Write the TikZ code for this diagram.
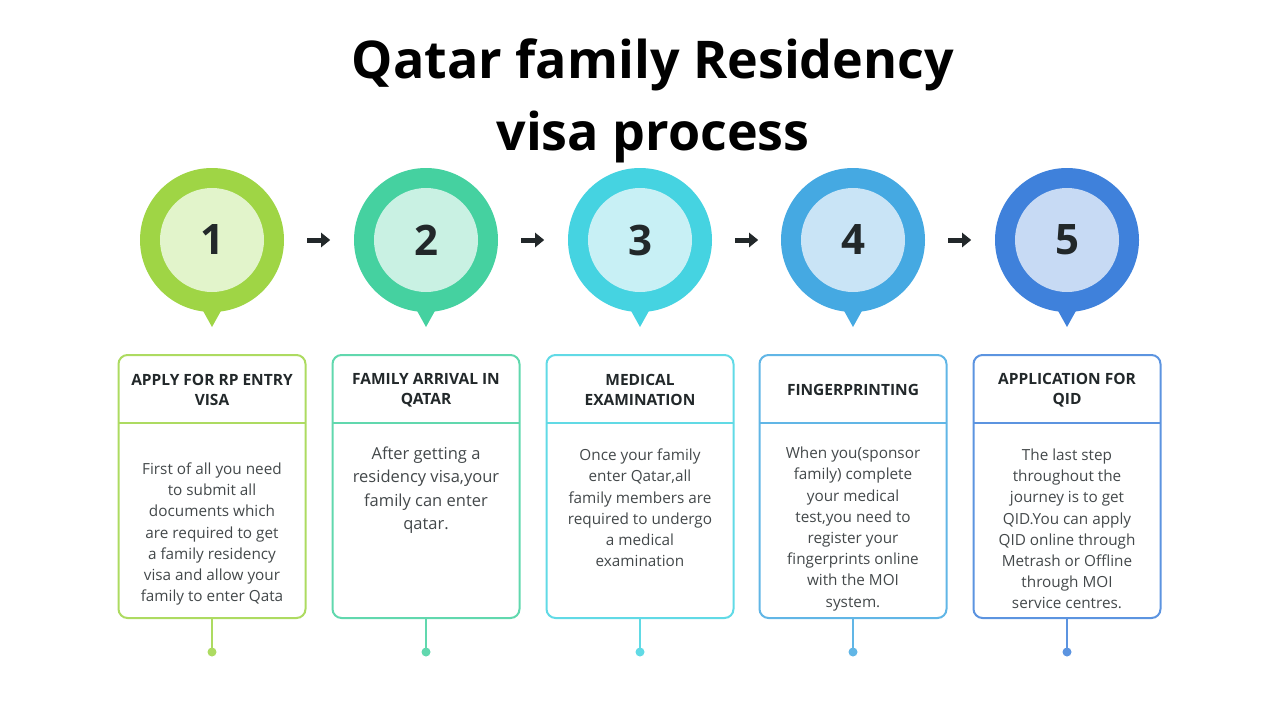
\documentclass[tikz,border=0pt]{standalone}
\usepackage{fontspec}
\setmainfont{Open Sans}
\usetikzlibrary{arrows.meta,positioning}
\definecolor{ringA}{HTML}{9FD545}\definecolor{coreA}{HTML}{E2F4CB}
\definecolor{ringB}{HTML}{45D1A0}\definecolor{coreB}{HTML}{C9F1E3}
\definecolor{ringC}{HTML}{45D3E1}\definecolor{coreC}{HTML}{C8F0F5}
\definecolor{ringD}{HTML}{45A9E2}\definecolor{coreD}{HTML}{C9E4F6}
\definecolor{ringE}{HTML}{3F81DB}\definecolor{coreE}{HTML}{C7DAF4}
\definecolor{ink}{HTML}{22282A}
\tikzset{
  ring/.style={circle,minimum size=144pt,inner sep=0pt},
  core/.style={circle,minimum size=104pt,inner sep=0pt,font=\bfseries\fontsize{42}{42}\selectfont,text=ink},
  card/.style={draw,line width=2pt,rounded corners=9pt,minimum width=187pt,minimum height=263pt,anchor=north},
  head/.style={font=\bfseries\fontsize{15.5}{20}\selectfont,align=center,text=ink},
  body/.style={font=\fontsize{15.3}{21.2}\selectfont,align=center,text=ink!85},
  nextstep/.style={-{Triangle[length=9pt,width=14pt]},line width=5pt,ink}
}
\begin{document}
\begin{tikzpicture}[x=1pt,y=-1pt]
  \useasboundingbox (0,0) rectangle (1280,720);
  \node[font=\bfseries\fontsize{52}{72}\selectfont,align=center] (title) at (653,101)
    {Qatar family Residency\\visa process};

  \foreach \n/\x/\c in {1/212/A,2/426/B,3/640/C,4/853/D,5/1067/E}{
    % pin
    \fill[ring\c] (\x-15,300) -- (\x+15,300) -- (\x,327) -- cycle;
    \node[ring,fill=ring\c] (ring\n) at (\x,240) {};
    \node[core,fill=core\c] (num\n) at (ring\n) {\n};
    % card with stem
    \node[card,draw=ring\c!85] (card\n) at (\x,354) {};
    \draw[ring\c!85,line width=2pt] ([xshift=1pt]card\n.west |- 0,423) -- ([xshift=-1pt]card\n.east |- 0,423);
    \coordinate (dot\n) at (\x,652);
    \draw[ring\c!85,line width=2pt] (card\n.south) -- (dot\n);
    \fill[ring\c!85] (dot\n) circle (4.5pt);
  }
  \foreach \a/\b in {1/2,2/3,3/4,4/5}
    \draw[nextstep] ([xshift=23pt]ring\a.east) -- ++(23,0);

  \node[head] (head1) at (212,390) {APPLY FOR RP ENTRY\\VISA};
  \node[head] (head2) at (426,390) {FAMILY ARRIVAL IN\\QATAR};
  \node[head] (head3) at (640,390) {MEDICAL\\EXAMINATION};
  \node[head] (head4) at (853,390) {FINGERPRINTING};
  \node[head] (head5) at (1067,390) {APPLICATION FOR\\QID};

  \node[body] (text1) at (212,534) {First of all you need\\to submit all\\documents which\\are required to get\\a family residency\\visa and allow your\\family to enter Qata};
  \node[body,font=\fontsize{16.5}{23.5}\selectfont] (text2) at (426,490) {After getting a\\residency visa,your\\family can enter\\qatar.};
  \node[body] (text3) at (640,508) {Once your family\\enter Qatar,all\\family members are\\required to undergo\\a medical\\examination};
  \node[body] (text4) at (853,529) {When you(sponsor\\family) complete\\your medical\\test,you need to\\register your\\fingerprints online\\with the MOI\\system.};
  \node[body] (text5) at (1067,529) {The last step\\throughout the\\journey is to get\\QID.You can apply\\QID online through\\Metrash or Offline\\through MOI\\service centres.};
\end{tikzpicture}
\end{document}
